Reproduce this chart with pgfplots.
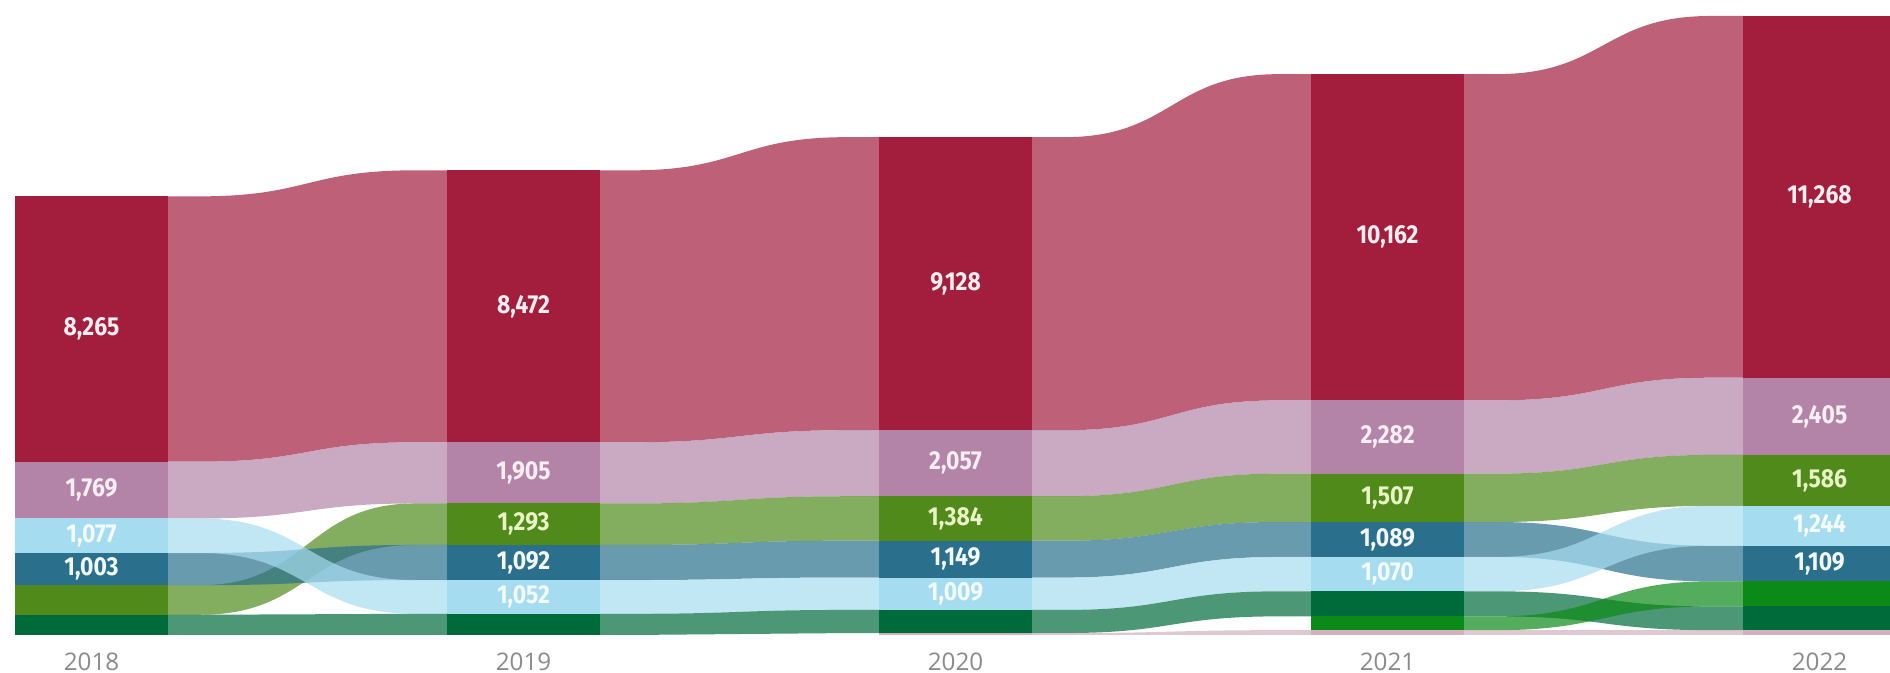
\documentclass[border=0pt]{standalone}
\usepackage{fontspec}
\setmainfont{Open Sans}
\newfontfamily\lblfont{Fira Sans}[FakeStretch=0.88]
\usepackage{pgfplots}
\usepackage{pgfplotstable}
\pgfplotsset{compat=1.18}

\definecolor{c-red}{HTML}{A31D3D}
\definecolor{c-pink}{HTML}{B384A8}
\definecolor{c-green}{HTML}{4F8A1B}
\definecolor{c-dblue}{HTML}{2A708C}
\definecolor{c-lblue}{HTML}{A6DCEF}
\definecolor{c-dkgreen}{HTML}{006B3A}
\definecolor{c-brgreen}{HTML}{0C8A17}
\definecolor{c-mauve}{HTML}{D2B0BF}
\definecolor{t-red}{HTML}{F6EEF1}
\definecolor{t-pink}{HTML}{F6EEF1}
\definecolor{t-green}{HTML}{EAF3C6}
\definecolor{t-dblue}{HTML}{F4F8FA}
\definecolor{t-lblue}{HTML}{F4FBFE}
\definecolor{yeargray}{HTML}{8A8A8A}

% one table per year, segments from bottom to top
\pgfplotstableread{
s       val
dkgreen 630
green   920
dblue   1003
lblue   1077
pink    1769
red     8265
}\yrzero
\pgfplotstableread{
s       val
dkgreen 660
lblue   1052
dblue   1092
green   1293
pink    1905
red     8472
}\yrone
\pgfplotstableread{
s       val
mauve   60
dkgreen 720
lblue   1009
dblue   1149
green   1384
pink    2057
red     9128
}\yrtwo
\pgfplotstableread{
s       val
mauve   150
brgreen 430
dkgreen 780
lblue   1070
dblue   1089
green   1507
pink    2282
red     10162
}\yrthree
\pgfplotstableread{
s       val
mauve   150
dkgreen 740
brgreen 780
dblue   1109
lblue   1244
green   1586
pink    2405
red     11268
}\yrfour

% stack positions: lo-<s>-<i>, hi-<s>-<i>, mid-<s>-<i>, lbl-<s>-<i>
\newcommand\stackyear[2]{%
  \pgfplotstablegetrowsof{#1}%
  \pgfmathtruncatemacro\lastrow{\pgfplotsretval-1}%
  \xdef\cum{0}%
  \foreach \r in {0,...,\lastrow}{%
    \pgfplotstablegetelem{\r}{s}\of{#1}\edef\sname{\pgfplotsretval}%
    \pgfplotstablegetelem{\r}{val}\of{#1}\edef\sval{\pgfplotsretval}%
    \edef\newtop{\the\numexpr\cum+\sval\relax}%
    \expandafter\xdef\csname lo-\sname-#2\endcsname{\cum}%
    \expandafter\xdef\csname hi-\sname-#2\endcsname{\newtop}%
    \expandafter\xdef\csname mid-\sname-#2\endcsname{\the\numexpr(\cum+\newtop)/2\relax}%
    \ifnum\sval>999
      \pgfmathtruncatemacro\thou{\sval/1000}%
      \edef\rest{\the\numexpr\sval-1000*\thou\relax}%
      \ifnum\rest<10 \edef\rest{00\rest}\else\ifnum\rest<100 \edef\rest{0\rest}\fi\fi
      \expandafter\xdef\csname lbl-\sname-#2\endcsname{\thou,\rest}%
    \fi
    \xdef\cum{\newtop}%
  }%
}
\stackyear{\yrzero}{0}
\stackyear{\yrone}{1}
\stackyear{\yrtwo}{2}
\stackyear{\yrthree}{3}
\stackyear{\yrfour}{4}

\newcommand\ribbon[3]{%
  \pgfmathsetmacro\xa{#2+0.1771}%
  \pgfmathsetmacro\xb{#3-0.1771}%
  \pgfmathsetmacro\xf{\xa+0.075}%
  \pgfmathsetmacro\xg{\xb-0.075}%
  \pgfmathsetmacro\xm{(\xa+\xb)/2}%
  \edef\hiA{\csname hi-#1-#2\endcsname}\edef\loA{\csname lo-#1-#2\endcsname}%
  \edef\hiB{\csname hi-#1-#3\endcsname}\edef\loB{\csname lo-#1-#3\endcsname}%
  \edef\temp{\noexpand\addplot[draw=none, fill=c-#1, fill opacity=0.7, forget plot]
    coordinates {(\xa,\hiA) (\xf,\hiA)}
    .. controls (\xm,\hiA) and (\xm,\hiB) .. (\xg,\hiB) -- (\xb,\hiB) -- (\xb,\loB) -- (\xg,\loB)
    .. controls (\xm,\loB) and (\xm,\loA) .. (\xf,\loA) -- (\xa,\loA) -- cycle;}%
  \temp
}

\newcommand\segment[2]{%
  \pgfmathsetmacro\xa{#2-0.1771}%
  \pgfmathsetmacro\xb{#2+0.1771}%
  \edef\lo{\csname lo-#1-#2\endcsname}\edef\hi{\csname hi-#1-#2\endcsname}%
  \edef\temp{\noexpand\addplot[draw=none, fill=c-#1, forget plot]
    coordinates {(\xa,\lo) (\xb,\lo) (\xb,\hi) (\xa,\hi)} -- cycle;}%
  \temp
  \ifcsname lbl-#1-#2\endcsname
    \edef\temp{\noexpand\node[font=\noexpand\lblfont\noexpand\bfseries\noexpand\fontsize{7.4}{9}\noexpand\selectfont,
      text=t-#1, anchor=center] at (axis cs:#2,\csname mid-#1-#2\endcsname) {\csname lbl-#1-#2\endcsname};}%
    \temp
  \fi
}

\begin{document}
\begin{tikzpicture}
\begin{axis}[
  at={(0,0)}, anchor=south west,
  width=18.9cm, height=6.35cm, scale only axis,
  xmin=-0.2118, xmax=4.163, ymin=0, ymax=19780,
  axis line style={draw=none},
  tick style={draw=none},
  ytick=\empty,
  xtick={0,1,2,3,4},
  xticklabels={2018,2019,2020,2021,2022},
  xticklabel style={anchor=center, yshift=-0.27cm,
    font=\fontsize{6.9}{8}\selectfont, text=yeargray},
]
\foreach \i/\j in {0/1,1/2,2/3,3/4}{
  \foreach \s in {red,pink,green,dblue,lblue,dkgreen,brgreen,mauve}{
    \ifcsname hi-\s-\i\endcsname
      \ifcsname hi-\s-\j\endcsname
        \ribbon{\s}{\i}{\j}
      \fi
    \fi
  }
}
\foreach \i in {0,...,4}{
  \foreach \s in {red,pink,green,dblue,lblue,dkgreen,brgreen,mauve}{
    \ifcsname hi-\s-\i\endcsname
      \segment{\s}{\i}
    \fi
  }
}
\end{axis}
\pgfresetboundingbox
\path[use as bounding box] (0,-0.38) rectangle (18.9,6.35);
\end{tikzpicture}
\end{document}
